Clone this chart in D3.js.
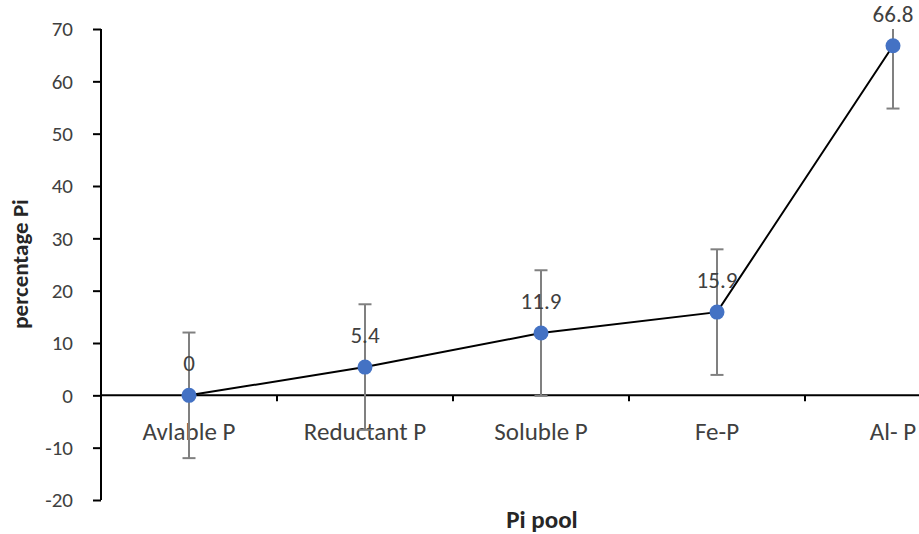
<!DOCTYPE html>
<html><head><meta charset="utf-8">
<script src="https://cdn.jsdelivr.net/npm/d3@7"></script>
<style>body{margin:0;background:#fff}svg{display:block}text{font-family:Carlito,Lato,"Open Sans",sans-serif}</style>
</head><body>
<svg id="c" width="919" height="534"></svg>
<script>
const categories = ["Avlable P","Reductant P","Soluble P","Fe-P","Al- P"];
const values = [0, 5.4, 11.9, 15.9, 66.8];
const errors = [12, 12, 12, 12, 12];
const yTicks = [-20,-10,0,10,20,30,40,50,60,70];

const svg = d3.select("#c");
const x = d3.scaleBand().domain(categories).range([101, 981]);
const y = d3.scaleLinear().domain([-20, 70]).range([500, 29]);
const cx = d => x(d) + x.bandwidth()/2;

// y axis
const ya = svg.append("g").attr("transform","translate(101,0)")
  .call(d3.axisLeft(y).tickValues(yTicks).tickSize(8).tickPadding(20).tickFormat(d3.format("d")));
ya.select(".domain").attr("stroke","#000").attr("stroke-width",2).attr("d","M0,"+y(70)+"V"+y(-20));
ya.selectAll(".tick line").attr("stroke","#000").attr("stroke-width",2);
ya.selectAll(".tick text").attr("fill","#404040").attr("font-size",21).text(d=>d<0?"-"+Math.abs(d):d);

// x axis at 0
const xa = svg.append("g").attr("transform","translate(0,"+y(0)+")");
xa.append("line").attr("x1",101).attr("x2",919).attr("stroke","#000").attr("stroke-width",2);
xa.selectAll("line.t").data(categories.slice(1)).enter().append("line")
  .attr("x1",d=>x(d)).attr("x2",d=>x(d)).attr("y1",0).attr("y2",6)
  .attr("stroke","#000").attr("stroke-width",2);
xa.selectAll("text").data(categories).enter().append("text")
  .attr("x",d=>cx(d)).attr("y",45).attr("text-anchor","middle")
  .attr("fill","#404040").attr("font-size",25).text(d=>d);

// clip
svg.append("clipPath").attr("id","pa").append("rect")
  .attr("x",101).attr("y",y(70)).attr("width",818).attr("height",y(-20)-y(70));

// error bars
const eb = svg.append("g").attr("clip-path","url(#pa)");
categories.forEach((c,i)=>{
  const lo = values[i]-errors[i], hi = values[i]+errors[i];
  eb.append("line").attr("x1",cx(c)).attr("x2",cx(c)).attr("y1",y(lo)).attr("y2",y(hi))
    .attr("stroke","#808080").attr("stroke-width",2);
  [lo,hi].forEach(v=>eb.append("line").attr("x1",cx(c)-6.5).attr("x2",cx(c)+6.5)
    .attr("y1",y(v)).attr("y2",y(v)).attr("stroke","#808080").attr("stroke-width",2));
});

// line
svg.append("path").datum(categories.map((c,i)=>[cx(c),y(values[i])]))
  .attr("d",d3.line()).attr("fill","none").attr("stroke","#000").attr("stroke-width",2);

// markers
svg.selectAll("circle").data(categories).enter().append("circle")
  .attr("cx",d=>cx(d)).attr("cy",(d,i)=>y(values[i])).attr("r",7.5).attr("fill","#4472C4");

// data labels
svg.selectAll("text.lbl").data(categories).enter().append("text").attr("class","lbl")
  .attr("x",d=>cx(d)).attr("y",(d,i)=>y(values[i])-24).attr("text-anchor","middle")
  .attr("fill","#404040").attr("font-size",23).text((d,i)=>values[i]);

// titles
svg.append("text").attr("x",542).attr("y",528).attr("text-anchor","middle")
  .attr("font-weight","bold").attr("font-size",25).attr("fill","#262626").text("Pi pool");
svg.append("text").attr("transform","translate(28,264) rotate(-90)").attr("text-anchor","middle")
  .attr("font-weight","bold").attr("font-size",23).attr("fill","#262626").text("percentage Pi");
</script>
</body></html>
